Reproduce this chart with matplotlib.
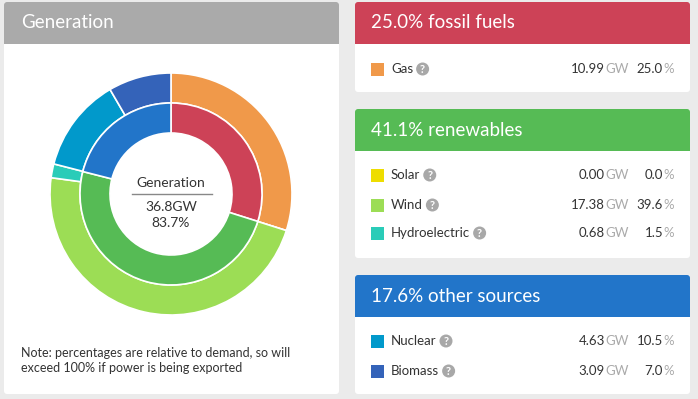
import matplotlib
matplotlib.use("Agg")
import matplotlib.pyplot as plt
from matplotlib.patches import FancyBboxPatch, Rectangle, Circle

plt.rcParams['font.family'] = ['Lato', 'DejaVu Sans']

# data
sources = ["Gas", "Solar", "Wind", "Hydroelectric", "Nuclear", "Biomass"]
source_gw = [10.99, 0.00, 17.38, 0.68, 4.63, 3.09]
source_pct = [25.0, 0.0, 39.6, 1.5, 10.5, 7.0]
source_colors = ["#f0994a", "#eedd00", "#9cdd55", "#2accb8", "#0199cb", "#3463b9"]

groups = ["fossil fuels", "renewables", "other sources"]
group_pct = [25.0, 41.1, 17.6]
group_colors = ["#cd4257", "#56bb55", "#2275c9"]
group_members = [["Gas"], ["Solar", "Wind", "Hydroelectric"], ["Nuclear", "Biomass"]]

total_gw = 36.8
total_pct = 83.7

W, H = 698, 399
fig = plt.figure(figsize=(W / 100, H / 100), dpi=100)
fig.patch.set_facecolor("#ebebeb")

ax = fig.add_axes([0, 0, 1, 1])
ax.set_xlim(0, W)
ax.set_ylim(H, 0)
ax.axis("off")


def panel(x0, y0, x1, y1, hb, color):
    # body + header
    ax.add_patch(FancyBboxPatch((x0, y0), x1 - x0, y1 - y0,
                                boxstyle="round,pad=0,rounding_size=3",
                                fc="white", ec="none", zorder=1))
    ax.add_patch(FancyBboxPatch((x0, y0), x1 - x0, hb - y0,
                                boxstyle="round,pad=0,rounding_size=3",
                                fc=color, ec="none", zorder=2))
    ax.add_patch(Rectangle((x0, hb - 5), x1 - x0, 5, fc=color, ec="none", zorder=2))


# left panel
panel(4, 2, 339, 394, 44, "#aaaaaa")
ax.text(21, 23, "Generation", color="white", fontsize=13.5, va="center", zorder=3)
ax.text(21, 353, "Note: percentages are relative to demand, so will",
        fontsize=9, color="#333333", va="center", zorder=3)
ax.text(21, 368, "exceed 100% if power is being exported",
        fontsize=9, color="#333333", va="center", zorder=3)

# donut
cx, cy, R = 171, 194, 121
pax = fig.add_axes([(cx - R) / W, (H - cy - R) / H, 2 * R / W, 2 * R / H])
ring = 30 / R
pax.pie(source_gw, radius=1, colors=source_colors, startangle=90, counterclock=False,
        wedgeprops=dict(width=ring, edgecolor="white", linewidth=1.2))
pax.pie(group_pct, radius=1 - ring, colors=group_colors, startangle=90, counterclock=False,
        wedgeprops=dict(width=ring, edgecolor="white", linewidth=1.2))
pax.set_xlim(-1, 1)
pax.set_ylim(-1, 1)
pax.axis("off")

ax.text(cx, 183, "Generation", ha="center", va="center", fontsize=10, color="#333333", zorder=5)
ax.plot([132, 212], [194, 194], color="#888888", lw=1, zorder=5)
ax.text(cx, 207, f"{total_gw:.1f}GW", ha="center", va="center", fontsize=10, color="#333333", zorder=5)
ax.text(cx, 223, f"{total_pct:.1f}%", ha="center", va="center", fontsize=10, color="#333333", zorder=5)

# right panels
panel_boxes = [(2, 44, 92, [69]), (109, 151, 258, [175, 205, 233]), (275, 317, 394, [341, 371])]
renderer = fig.canvas.get_renderer()
for g, (y0, hb, y1, rows) in enumerate(panel_boxes):
    panel(355, y0, 690, y1, hb, group_colors[g])
    ax.text(371, (y0 + hb) / 2, f"{group_pct[g]:.1f}% {groups[g]}", color="white",
            fontsize=13.5, va="center", zorder=3)
    for name, ry in zip(group_members[g], rows):
        i = sources.index(name)
        ax.add_patch(Rectangle((371, ry - 6.5), 13, 13, fc=source_colors[i], ec="none", zorder=3))
        t = ax.text(391, ry, name, fontsize=9.5, color="#333333", va="center", zorder=3)
        bb = t.get_window_extent(renderer)
        qx = bb.x1 + 9.5
        ax.add_patch(Circle((qx, ry), 6.5, fc="#a8a8a8", ec="none", zorder=3))
        ax.text(qx, ry + 0.5, "?", fontsize=8, color="white", ha="center", va="center",
                fontweight="bold", zorder=4)
        n1 = ax.text(605, ry, f"{source_gw[i]:.2f}", fontsize=9.5, color="#333333",
                     ha="right", va="center", zorder=3)
        ax.text(n1.get_window_extent(renderer).x1, ry, "GW", fontsize=9.5, color="#aaaaaa",
                ha="left", va="center", zorder=3)
        n2 = ax.text(663, ry, f"{source_pct[i]:.1f}", fontsize=9.5, color="#333333",
                     ha="right", va="center", zorder=3)
        ax.text(n2.get_window_extent(renderer).x1, ry, "%", fontsize=9.5, color="#aaaaaa",
                ha="left", va="center", zorder=3)

fig.savefig("out.png", dpi=100, facecolor=fig.get_facecolor())
